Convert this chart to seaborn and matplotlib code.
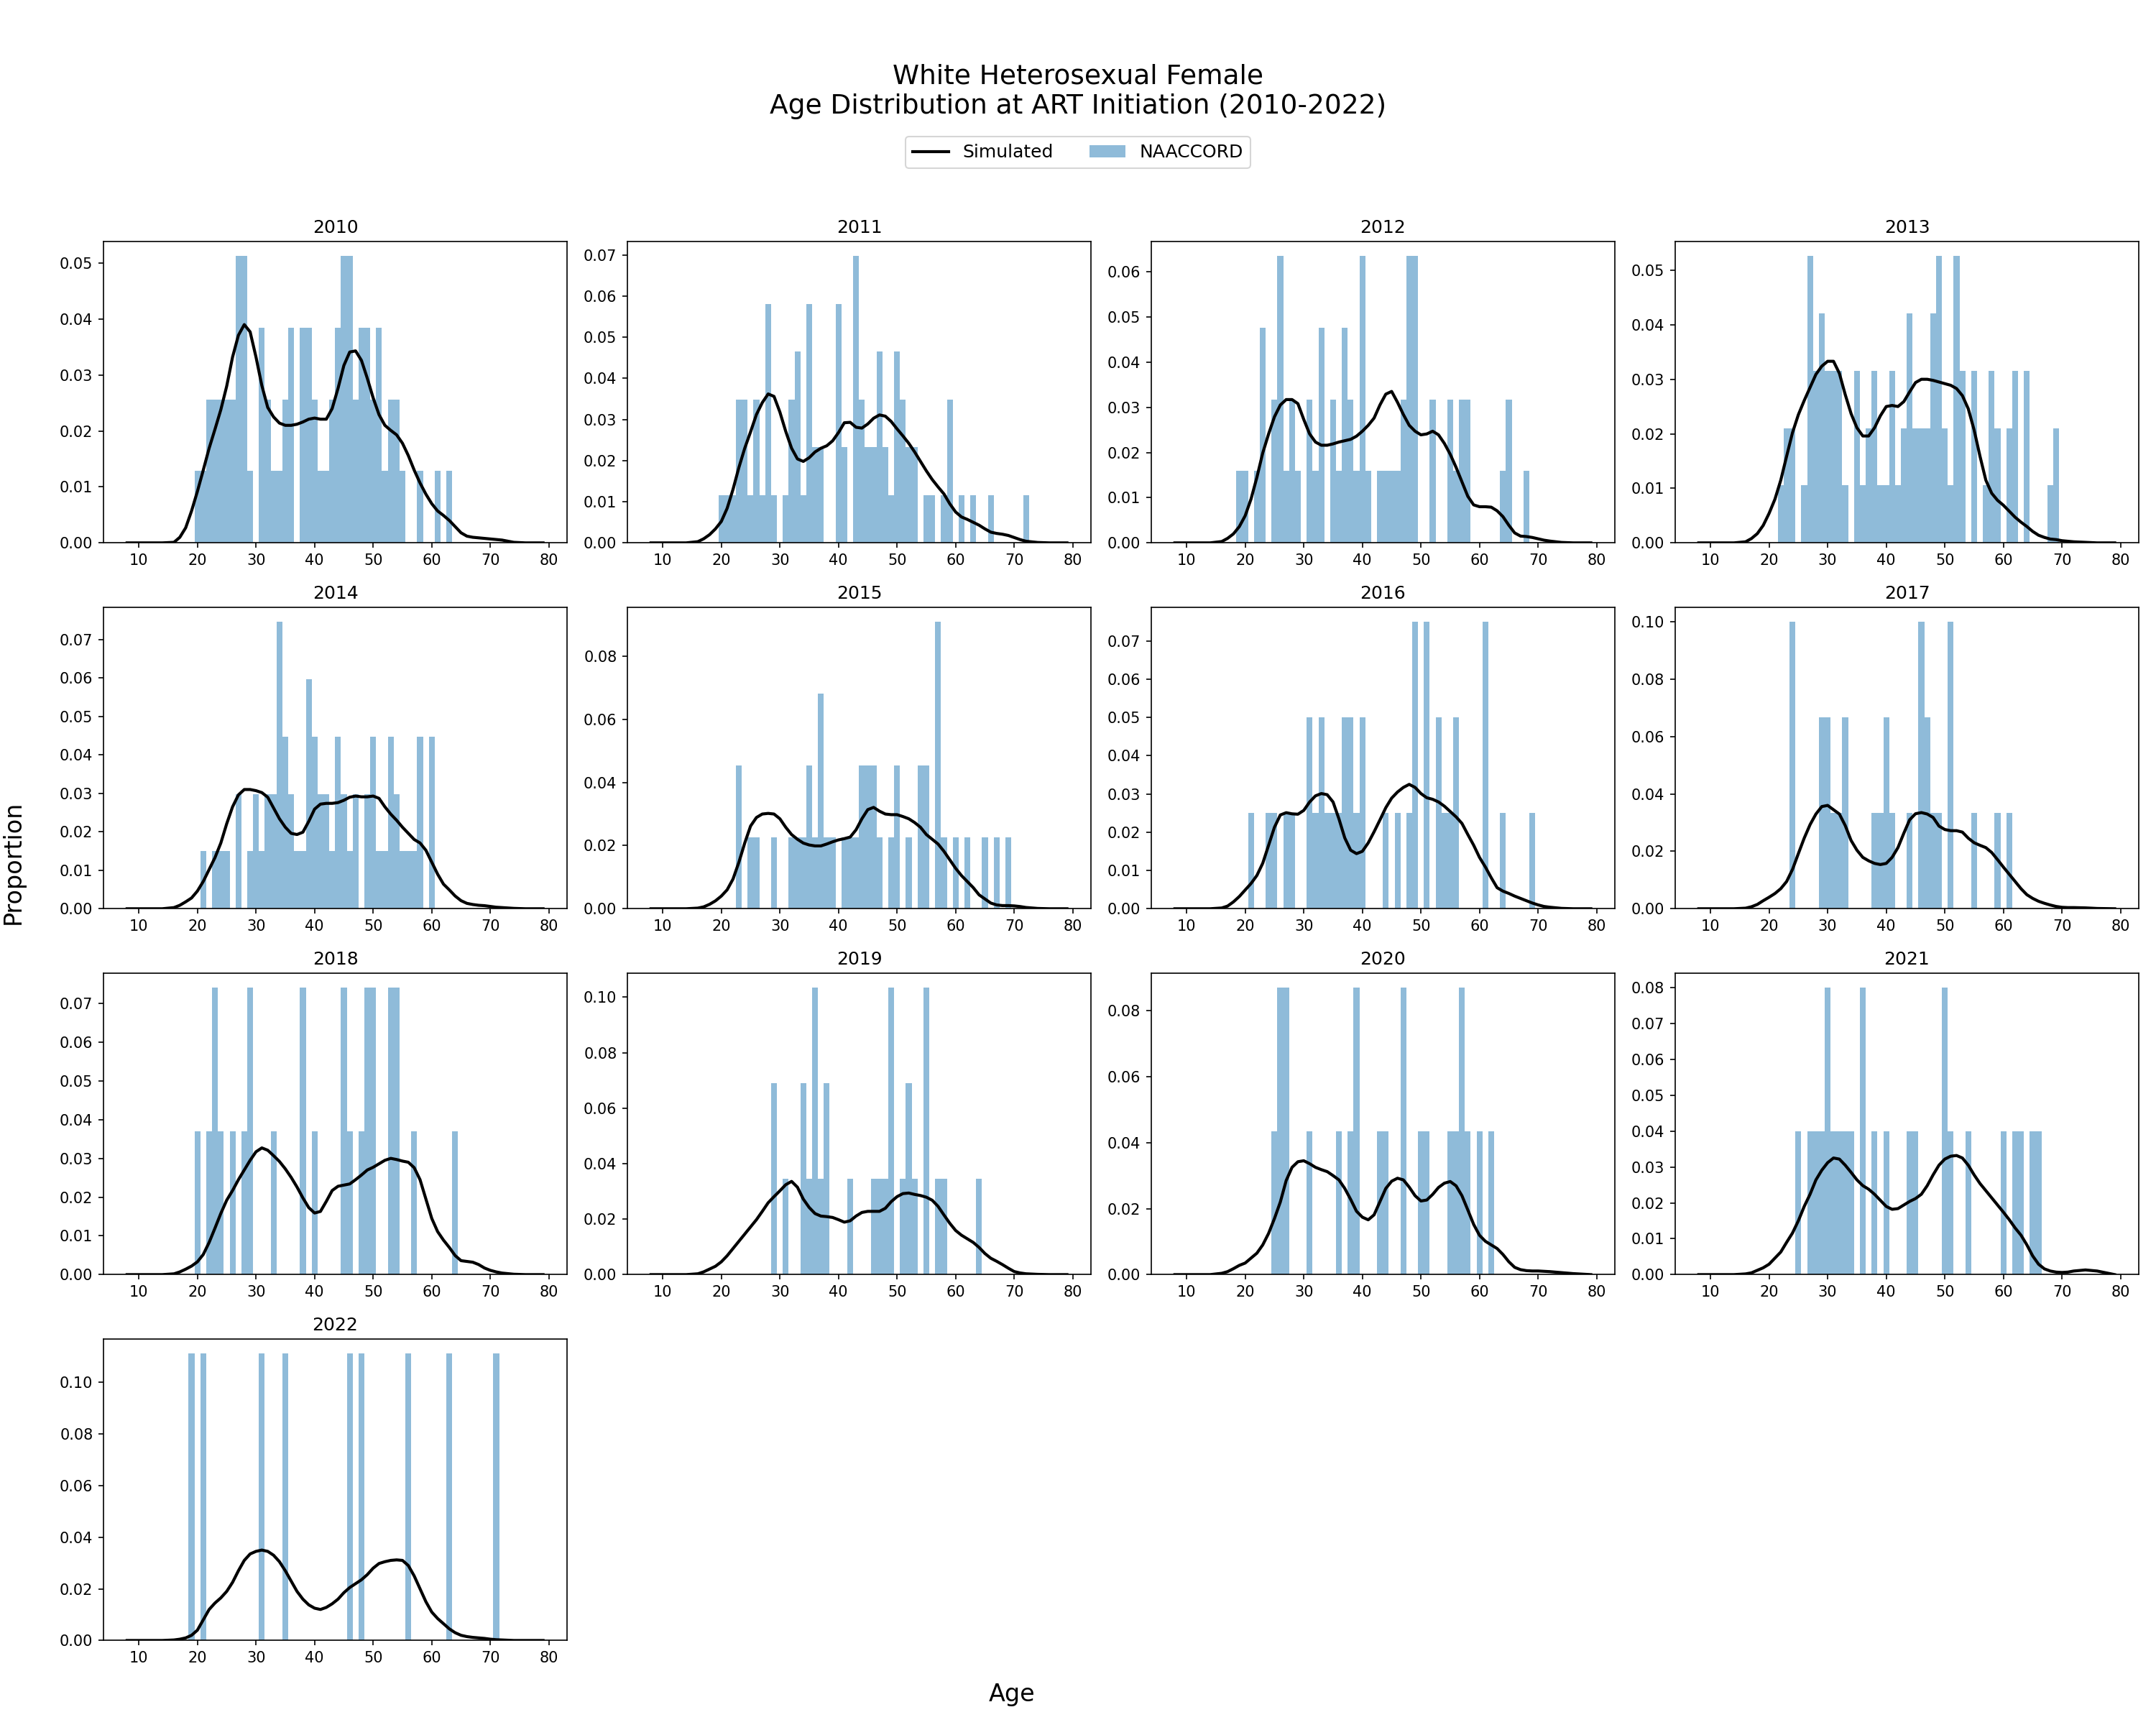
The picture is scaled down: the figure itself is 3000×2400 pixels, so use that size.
import numpy as np
import pandas as pd
import matplotlib
matplotlib.use("Agg")
import matplotlib.pyplot as plt
import seaborn as sns
from matplotlib.lines import Line2D
from matplotlib.patches import Patch

# NAACCORD observed counts by age at ART initiation (bars are count / total)
ages_2010 = [20, 21, 22, 23, 24, 25, 26, 27, 28, 29, 31, 32, 33, 34, 35, 36, 38, 39, 40, 41,
             42, 43, 44, 45, 46, 47, 48, 49, 50, 51, 52, 53, 54, 55, 58, 61, 63]
counts_2010 = [1, 1, 2, 2, 2, 2, 2, 4, 4, 1, 3, 2, 1, 1, 2, 3, 3, 3, 2, 1,
               1, 2, 3, 4, 4, 2, 3, 3, 2, 3, 1, 2, 2, 1, 1, 1, 1]
ages_2011 = [20, 21, 22, 23, 24, 25, 26, 27, 28, 29, 31, 32, 33, 34, 35, 36, 37, 40, 41, 43,
             44, 45, 46, 47, 48, 49, 50, 51, 52, 53, 55, 56, 58, 59, 61, 63, 66, 72]
counts_2011 = [1, 1, 1, 3, 3, 1, 3, 1, 5, 1, 1, 3, 4, 1, 5, 2, 2, 5, 2, 6,
               3, 2, 2, 4, 2, 1, 4, 3, 2, 2, 1, 1, 1, 3, 1, 1, 1, 1]
ages_2012 = [19, 20, 22, 23, 25, 26, 27, 28, 29, 31, 32, 33, 35, 36, 37, 38, 39, 40, 41, 43,
             44, 45, 46, 47, 48, 49, 52, 55, 56, 57, 58, 64, 65, 68]
counts_2012 = [1, 1, 1, 3, 2, 4, 1, 2, 1, 2, 1, 3, 2, 1, 3, 2, 1, 4, 1, 1,
               1, 1, 1, 2, 4, 4, 2, 2, 1, 2, 2, 1, 2, 1]
ages_2013 = [22, 23, 24, 26, 27, 28, 29, 30, 31, 32, 33, 35, 36, 37, 38, 39, 40, 41, 42, 43,
             44, 45, 46, 47, 48, 49, 50, 51, 52, 53, 55, 57, 58, 59, 61, 62, 64, 68, 69]
counts_2013 = [1, 2, 2, 1, 5, 3, 4, 3, 3, 3, 1, 3, 1, 2, 3, 1, 1, 3, 1, 2,
               4, 2, 2, 2, 4, 5, 2, 1, 5, 3, 3, 1, 3, 2, 2, 3, 3, 1, 2]
ages_2014 = [21, 23, 24, 25, 27, 29, 30, 31, 32, 33, 34, 35, 36, 37, 38, 39, 40, 41, 42, 43,
             44, 45, 46, 47, 49, 50, 51, 52, 53, 54, 55, 56, 57, 58, 60]
counts_2014 = [1, 1, 1, 1, 2, 1, 2, 1, 2, 2, 5, 3, 2, 1, 1, 4, 3, 2, 2, 1,
               3, 2, 1, 2, 2, 3, 1, 1, 3, 2, 1, 1, 1, 3, 3]
ages_2015 = [23, 25, 26, 29, 32, 33, 34, 35, 36, 37, 38, 39, 41, 42, 43, 44, 45, 46, 47, 49,
             50, 52, 54, 55, 57, 58, 60, 62, 65, 67, 69]
counts_2015 = [2, 1, 1, 1, 1, 1, 1, 2, 1, 3, 1, 1, 1, 1, 1, 2, 2, 2, 1, 1,
               2, 1, 2, 2, 4, 1, 1, 1, 1, 1, 1]
ages_2016 = [21, 24, 25, 27, 28, 31, 32, 33, 34, 35, 36, 37, 38, 39, 40, 44, 46, 48, 49, 51,
             53, 54, 55, 56, 61, 64, 69]
counts_2016 = [1, 1, 1, 1, 1, 2, 1, 2, 1, 1, 1, 2, 2, 1, 2, 1, 1, 1, 3, 3,
               2, 1, 1, 2, 3, 1, 1]
ages_2017 = [24, 29, 30, 31, 32, 33, 38, 39, 40, 41, 44, 46, 47, 48, 49, 51, 55, 59, 61]
counts_2017 = [3, 2, 2, 1, 1, 2, 1, 1, 2, 1, 1, 3, 2, 1, 1, 3, 1, 1, 1]
ages_2018 = [20, 22, 23, 24, 26, 28, 29, 33, 38, 40, 45, 46, 48, 49, 50, 53, 54, 57, 64]
counts_2018 = [1, 1, 2, 1, 1, 1, 2, 1, 2, 1, 2, 1, 1, 2, 2, 2, 2, 1, 1]
ages_2019 = [29, 31, 34, 35, 36, 37, 38, 42, 46, 47, 48, 49, 51, 52, 53, 55, 57, 58, 64]
counts_2019 = [2, 1, 2, 1, 3, 1, 2, 1, 1, 1, 1, 3, 1, 2, 1, 3, 1, 1, 1]
ages_2020 = [25, 26, 27, 31, 36, 38, 39, 43, 44, 47, 50, 51, 55, 56, 57, 58, 60, 62]
counts_2020 = [1, 2, 2, 1, 1, 1, 2, 1, 1, 2, 1, 1, 1, 1, 2, 1, 1, 1]
ages_2021 = [25, 27, 28, 29, 30, 31, 32, 33, 34, 36, 38, 40, 44, 45, 50, 51, 54, 60, 62, 63,
             65, 66]
counts_2021 = [1, 1, 1, 1, 2, 1, 1, 1, 1, 2, 1, 1, 1, 1, 2, 1, 1, 1, 1, 1,
               1, 1]
ages_2022 = [19, 21, 31, 35, 46, 48, 56, 63, 71]
counts_2022 = [1, 1, 1, 1, 1, 1, 1, 1, 1]

# Simulated density at these ages
line_ages = [8, 14] + list(range(16, 73)) + [74, 76, 79]

sim_2010 = [0, 0,
            0.0001, 0.001, 0.0027, 0.0057, 0.0092, 0.013, 0.0169, 0.0203, 0.0238, 0.028,
            0.0332, 0.0371, 0.039, 0.0377, 0.0332, 0.0281, 0.0242, 0.0225, 0.0214, 0.021,
            0.021, 0.0212, 0.0216, 0.0221, 0.0223, 0.0221, 0.0221, 0.024, 0.0276, 0.0317,
            0.0341, 0.0343, 0.0326, 0.0294, 0.0259, 0.0229, 0.021, 0.0201, 0.0193, 0.0178,
            0.0156, 0.013, 0.0107, 0.0087, 0.007, 0.0057, 0.0049, 0.004, 0.0029, 0.0018,
            0.0012, 0.001, 0.0009, 0.0008, 0.0007, 0.0006, 0.0005,
            0.0001, 0, 0]
sim_2011 = [0, 0,
            0.0003, 0.001, 0.002, 0.0034, 0.0052, 0.0084, 0.013, 0.0183, 0.023, 0.027,
            0.0312, 0.0341, 0.0362, 0.0356, 0.0318, 0.0271, 0.023, 0.0204, 0.0198, 0.0207,
            0.0221, 0.023, 0.0236, 0.0248, 0.0268, 0.0292, 0.0293, 0.0281, 0.0279, 0.0289,
            0.0303, 0.0311, 0.0308, 0.0295, 0.0277, 0.026, 0.0242, 0.0221, 0.0198, 0.0175,
            0.0154, 0.0136, 0.0119, 0.0095, 0.0075, 0.0063, 0.0057, 0.005, 0.0043, 0.0034,
            0.0026, 0.0023, 0.0021, 0.0018, 0.0013, 0.0008, 0.0004,
            0.0001, 0, 0]
sim_2012 = [0, 0,
            0.0003, 0.001, 0.002, 0.0036, 0.006, 0.0097, 0.0145, 0.0199, 0.0241, 0.0279,
            0.0305, 0.0317, 0.0317, 0.0308, 0.0273, 0.0241, 0.0223, 0.0216, 0.0216, 0.0219,
            0.0223, 0.0226, 0.0229, 0.0236, 0.0247, 0.026, 0.0276, 0.0305, 0.0329, 0.0335,
            0.0311, 0.0284, 0.026, 0.0247, 0.0239, 0.0241, 0.0247, 0.0239, 0.022, 0.0196,
            0.0167, 0.0135, 0.0103, 0.0084, 0.008, 0.008, 0.0079, 0.0071, 0.0058, 0.0039,
            0.0022, 0.0015, 0.0014, 0.0012, 0.0009, 0.0006, 0.0004,
            0.0001, 0, 0]
sim_2013 = [0, 0,
            0.0002, 0.0008, 0.0017, 0.0032, 0.0054, 0.008, 0.0115, 0.0159, 0.0202, 0.0235,
            0.0261, 0.0285, 0.0309, 0.0324, 0.0333, 0.0333, 0.0311, 0.0272, 0.0237, 0.0211,
            0.0196, 0.0196, 0.0211, 0.0233, 0.025, 0.0252, 0.025, 0.0259, 0.0277, 0.0294,
            0.03, 0.03, 0.0298, 0.0295, 0.0292, 0.0289, 0.0283, 0.027, 0.0246, 0.0207,
            0.0159, 0.0115, 0.0091, 0.0078, 0.0069, 0.0058, 0.0047, 0.0038, 0.003, 0.0021,
            0.0014, 0.001, 0.0007, 0.0006, 0.0004, 0.0003, 0.0002,
            0.0001, 0, 0]
sim_2014 = [0, 0,
            0.0003, 0.0009, 0.0018, 0.0028, 0.0046, 0.0071, 0.0102, 0.0133, 0.0171, 0.0221,
            0.0265, 0.0296, 0.031, 0.031, 0.0307, 0.0302, 0.029, 0.0262, 0.0234, 0.0212,
            0.0196, 0.0193, 0.0199, 0.0227, 0.0259, 0.0272, 0.0274, 0.0274, 0.0276, 0.0282,
            0.029, 0.0293, 0.0291, 0.0291, 0.0293, 0.0287, 0.0265, 0.0246, 0.023, 0.0212,
            0.0196, 0.018, 0.0171, 0.0152, 0.0121, 0.009, 0.0064, 0.0049, 0.0033, 0.0021,
            0.0014, 0.0011, 0.0009, 0.0008, 0.0006, 0.0004, 0.0003,
            0.0001, 0, 0]
sim_2015 = [0, 0,
            0.0002, 0.0006, 0.0014, 0.0025, 0.004, 0.006, 0.0094, 0.0147, 0.0208, 0.0262,
            0.0289, 0.03, 0.0302, 0.03, 0.0285, 0.0258, 0.0235, 0.022, 0.0208, 0.0202,
            0.0199, 0.0199, 0.0205, 0.0212, 0.0218, 0.0222, 0.0227, 0.025, 0.0285, 0.0314,
            0.0321, 0.0309, 0.03, 0.0298, 0.0298, 0.0292, 0.0285, 0.0273, 0.0258, 0.0235,
            0.022, 0.0205, 0.0182, 0.0155, 0.0128, 0.0105, 0.0086, 0.0067, 0.0044, 0.0031,
            0.0018, 0.0012, 0.001, 0.001, 0.0009, 0.0007, 0.0004,
            0.0001, 0, 0]
sim_2016 = [0, 0,
            0.0002, 0.0007, 0.0018, 0.0032, 0.0049, 0.0066, 0.0087, 0.0119, 0.0166, 0.0213,
            0.0245, 0.0251, 0.0248, 0.0247, 0.0257, 0.0279, 0.0295, 0.0301, 0.0298, 0.0279,
            0.0235, 0.0185, 0.0153, 0.0144, 0.015, 0.0172, 0.0201, 0.0232, 0.0264, 0.0289,
            0.0305, 0.0317, 0.0325, 0.0317, 0.0301, 0.029, 0.0286, 0.0279, 0.0268, 0.0254,
            0.024, 0.0223, 0.0194, 0.0166, 0.0134, 0.0109, 0.0081, 0.0055, 0.0046, 0.004,
            0.0033, 0.0027, 0.0021, 0.0015, 0.001, 0.0006, 0.0004,
            0.0001, 0, 0]
sim_2017 = [0, 0,
            0.0002, 0.0007, 0.0015, 0.0028, 0.004, 0.0053, 0.007, 0.0095, 0.0137, 0.0192,
            0.0246, 0.0293, 0.033, 0.0356, 0.036, 0.0345, 0.033, 0.029, 0.0238, 0.0204,
            0.0179, 0.0167, 0.0158, 0.0154, 0.0158, 0.0179, 0.0213, 0.0263, 0.031, 0.0331,
            0.0335, 0.033, 0.0318, 0.0288, 0.0276, 0.0272, 0.0272, 0.0267, 0.0246, 0.023,
            0.0221, 0.0213, 0.0196, 0.0171, 0.0145, 0.012, 0.0095, 0.007, 0.0049, 0.0036,
            0.0026, 0.0019, 0.0013, 0.0008, 0.0005, 0.0004, 0.0004,
            0.0003, 0.0001, 0]
sim_2018 = [0, 0,
            0.0002, 0.0007, 0.0014, 0.0022, 0.0033, 0.0052, 0.0083, 0.012, 0.0158, 0.0192,
            0.0217, 0.0245, 0.027, 0.0295, 0.0317, 0.0327, 0.0321, 0.0307, 0.0292, 0.0273,
            0.0251, 0.0226, 0.0198, 0.0173, 0.0159, 0.0163, 0.0189, 0.0217, 0.0228, 0.0231,
            0.0234, 0.0245, 0.0257, 0.027, 0.0277, 0.0286, 0.0295, 0.03, 0.0297, 0.0293,
            0.029, 0.0276, 0.0245, 0.0195, 0.0145, 0.0111, 0.0089, 0.007, 0.0049, 0.0036,
            0.0034, 0.0032, 0.0026, 0.0017, 0.0011, 0.0007, 0.0004,
            0.0001, 0, 0]
sim_2019 = [0, 0,
            0.0003, 0.001, 0.002, 0.003, 0.0046, 0.0068, 0.0094, 0.012, 0.0146, 0.0172,
            0.0198, 0.0228, 0.0259, 0.0281, 0.0302, 0.0324, 0.0336, 0.0315, 0.0272, 0.0242,
            0.022, 0.0211, 0.0209, 0.0206, 0.0198, 0.0189, 0.0194, 0.0211, 0.0224, 0.0228,
            0.0228, 0.0228, 0.0239, 0.0263, 0.0281, 0.0292, 0.0294, 0.0289, 0.0285, 0.0279,
            0.0268, 0.0246, 0.0215, 0.0185, 0.0159, 0.0142, 0.0129, 0.0116, 0.0098, 0.0076,
            0.0059, 0.0048, 0.0036, 0.0023, 0.0011, 0.0006, 0.0003,
            0.0001, 0, 0]
sim_2020 = [0, 0,
            0.0004, 0.0009, 0.0018, 0.0028, 0.0035, 0.005, 0.0065, 0.009, 0.0125, 0.017,
            0.022, 0.0285, 0.0325, 0.0342, 0.0345, 0.0336, 0.0325, 0.0318, 0.0312, 0.03,
            0.0287, 0.0261, 0.0228, 0.0192, 0.0174, 0.0166, 0.0181, 0.0221, 0.0261, 0.0283,
            0.0292, 0.0287, 0.0265, 0.0239, 0.0223, 0.0226, 0.0243, 0.0264, 0.0277, 0.0282,
            0.0269, 0.0239, 0.0196, 0.0152, 0.0119, 0.0101, 0.009, 0.0079, 0.0061, 0.0039,
            0.0022, 0.0015, 0.0012, 0.0011, 0.0011, 0.001, 0.0009,
            0.0006, 0.0003, 0]
sim_2021 = [0, 0,
            0.0002, 0.0005, 0.0012, 0.0019, 0.0029, 0.0046, 0.0063, 0.009, 0.0116, 0.015,
            0.019, 0.0224, 0.0264, 0.0291, 0.0312, 0.0325, 0.0322, 0.0305, 0.0285, 0.0264,
            0.0248, 0.0238, 0.0224, 0.0207, 0.019, 0.0182, 0.0184, 0.0194, 0.0204, 0.0212,
            0.0224, 0.0248, 0.0278, 0.0305, 0.0322, 0.033, 0.0332, 0.0325, 0.0305, 0.0278,
            0.0254, 0.0234, 0.0214, 0.0194, 0.0174, 0.0153, 0.013, 0.011, 0.0083, 0.0052,
            0.0029, 0.0016, 0.001, 0.0007, 0.0006, 0.0007, 0.001,
            0.0013, 0.001, 0]
sim_2022 = [0, 0,
            0.0002, 0.0005, 0.001, 0.002, 0.004, 0.008, 0.012, 0.0145, 0.0165, 0.019,
            0.0225, 0.027, 0.031, 0.0335, 0.0345, 0.035, 0.0345, 0.033, 0.0305, 0.027,
            0.023, 0.019, 0.016, 0.0138, 0.0125, 0.012, 0.0128, 0.0142, 0.016, 0.0185,
            0.0205, 0.022, 0.0235, 0.0255, 0.028, 0.0298, 0.0305, 0.031, 0.0312, 0.031,
            0.029, 0.025, 0.02, 0.015, 0.011, 0.0085, 0.0065, 0.0045, 0.003, 0.002,
            0.0015, 0.0012, 0.001, 0.0008, 0.0005, 0.0003, 0.0002,
            0, 0, 0]

years = [2010, 2011, 2012, 2013, 2014, 2015, 2016, 2017, 2018, 2019, 2020, 2021, 2022]
bar_ages = [ages_2010, ages_2011, ages_2012, ages_2013, ages_2014, ages_2015, ages_2016,
            ages_2017, ages_2018, ages_2019, ages_2020, ages_2021, ages_2022]
bar_counts = [counts_2010, counts_2011, counts_2012, counts_2013, counts_2014, counts_2015,
              counts_2016, counts_2017, counts_2018, counts_2019, counts_2020, counts_2021,
              counts_2022]
sims = [sim_2010, sim_2011, sim_2012, sim_2013, sim_2014, sim_2015, sim_2016, sim_2017,
        sim_2018, sim_2019, sim_2020, sim_2021, sim_2022]

bar_color = "#8fbbd9"

fig, axes = plt.subplots(4, 4, figsize=(20, 16), dpi=150)
fig.subplots_adjust(left=0.048, right=0.992, top=0.860, bottom=0.049,
                    wspace=0.13, hspace=0.214)

for i, ax in enumerate(axes.flat):
    if i >= len(years):
        ax.set_visible(False)
        continue
    df = pd.DataFrame({"age": bar_ages[i], "n": bar_counts[i]})
    sns.histplot(data=df, x="age", weights="n", discrete=True, stat="probability",
                 color=bar_color, alpha=1, linewidth=0, ax=ax)
    sns.lineplot(x=line_ages, y=sims[i], color="black", linewidth=2.0, ax=ax)
    ax.set_title(str(years[i]), fontsize=12)
    ax.set_xlabel("")
    ax.set_ylabel("")
    ax.set_xlim(3.97, 83.1)
    ax.set_xticks([10, 20, 30, 40, 50, 60, 70, 80])

fig.suptitle("White Heterosexual Female\nAge Distribution at ART Initiation (2010-2022)",
             fontsize=18, y=0.963, va="top")
handles = [Line2D([0], [0], color="black", linewidth=2.0), Patch(facecolor=bar_color)]
fig.legend(handles, ["Simulated", "NAACCORD"], loc="center", bbox_to_anchor=(0.5, 0.9115),
           ncol=2, fontsize=12)
fig.text(0.006, 0.5, "Proportion", rotation=90, ha="center", va="center", fontsize=16)
fig.text(0.4695, 0.0175, "Age", ha="center", va="center", fontsize=16)

fig.savefig("out.png", dpi=150)
